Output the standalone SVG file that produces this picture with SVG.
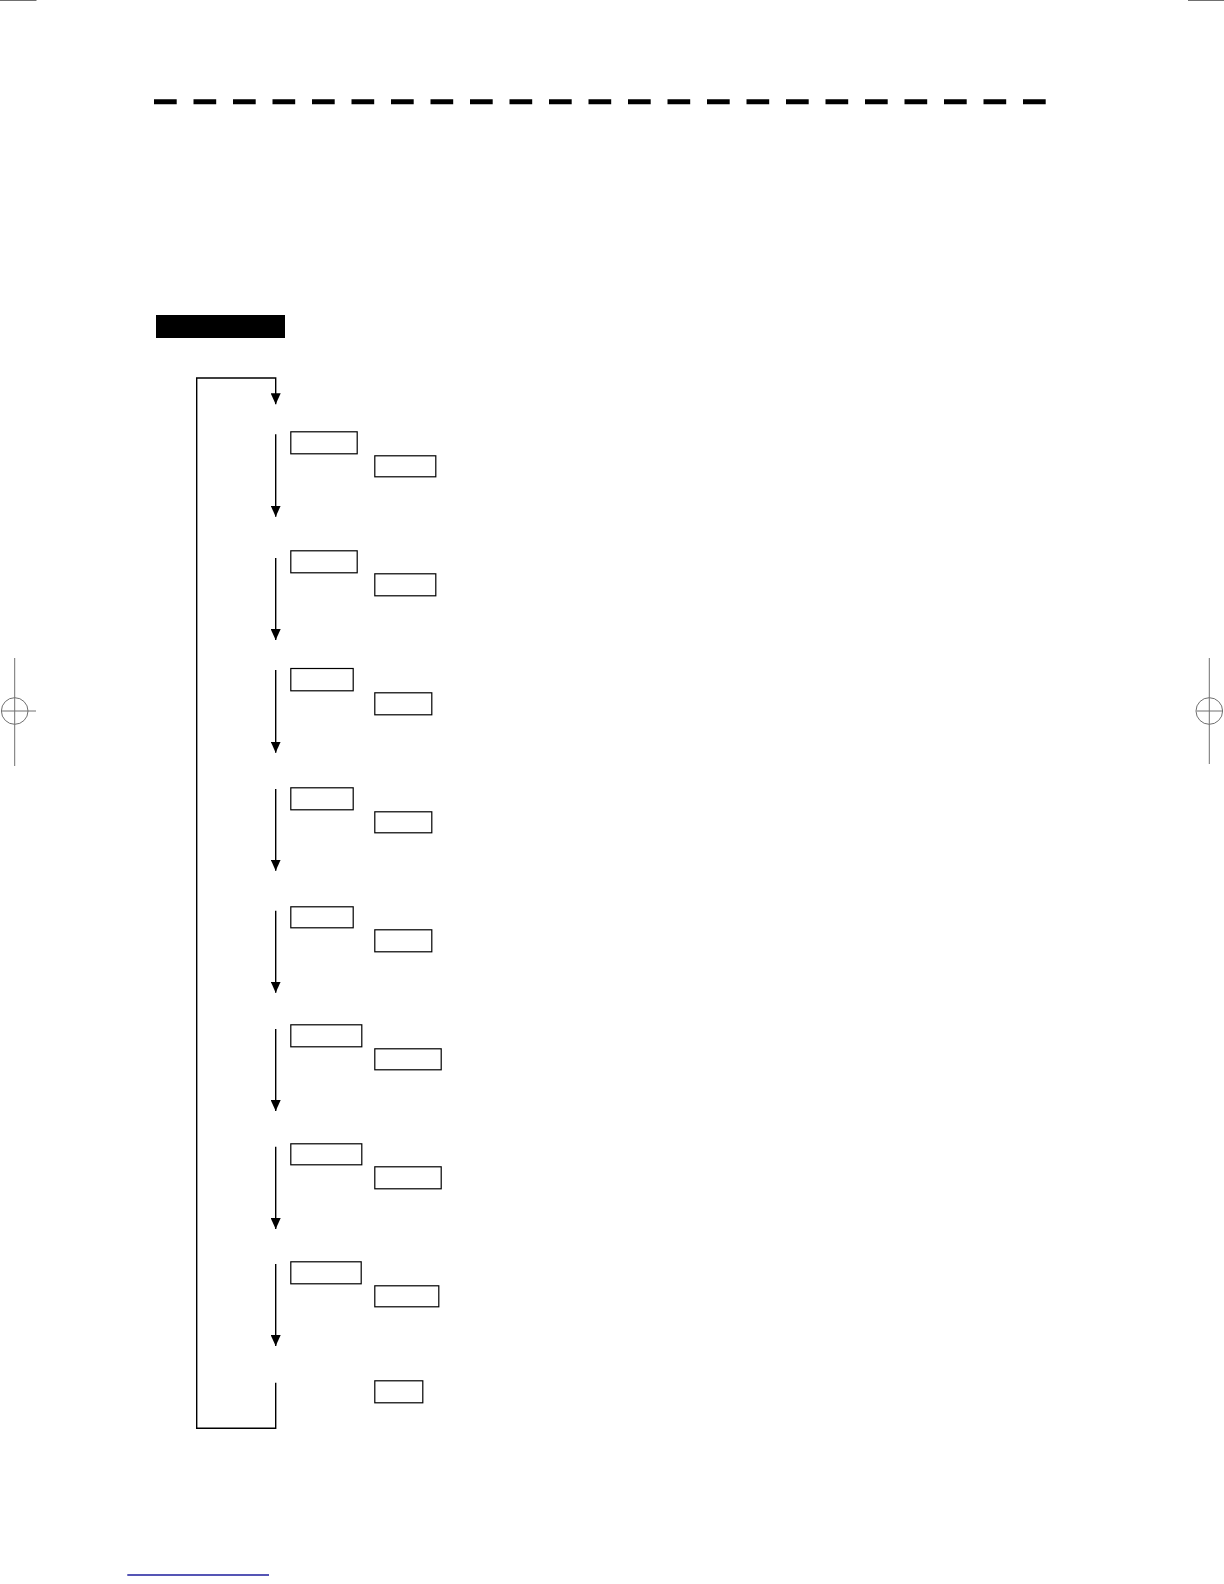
<svg xmlns="http://www.w3.org/2000/svg" width="1224" height="1584" viewBox="0 0 1224 1584">
  <style>
    .box { fill: #ffffff; stroke: #000000; stroke-width: 1.2; }
    .flow { fill: none; stroke: #000000; stroke-width: 1.4; }
    .crop { fill: none; stroke: #707070; stroke-width: 1; }
  </style>
  <defs>
    <marker id="arrow" viewBox="0 0 11 10" refX="11" refY="5" markerWidth="11" markerHeight="10" markerUnits="userSpaceOnUse" orient="auto">
      <path d="M0,0 L11,5 L0,10 Z" fill="#000000"/>
    </marker>
  </defs>
  <rect width="1224" height="1584" fill="#ffffff"/>

  <g id="crop-marks">
    <line class="crop" x1="0" y1="0.5" x2="36.5" y2="0.5"/>
    <line class="crop" x1="1188" y1="0.5" x2="1224" y2="0.5"/>
    <line class="crop" x1="14.7" y1="658" x2="14.7" y2="766"/>
    <line class="crop" x1="1.7" y1="711" x2="36" y2="711"/>
    <circle class="crop" cx="14.7" cy="711" r="13.3"/>
    <line class="crop" x1="1209.3" y1="658" x2="1209.3" y2="764"/>
    <line class="crop" x1="1196.7" y1="711" x2="1223" y2="711"/>
    <circle class="crop" cx="1209.3" cy="711" r="13.3"/>
    <line x1="127.3" y1="1575" x2="269" y2="1575" stroke="#1c1c9c" stroke-width="1.3"/>
  </g>

  <g id="header">
    <line x1="154" y1="101.7" x2="1046" y2="101.7" stroke="#000000" stroke-width="5" stroke-dasharray="22.7 16.8"/>
    <rect x="156" y="315" width="129" height="23" fill="#000000"/>
  </g>

  <g id="connectors">
    <path class="flow" d="M275.7,1382.7 V1428.3 H196.7 V378 H275.7 V404.3" marker-end="url(#arrow)"/>
    <line class="flow" x1="275.7" y1="434.3" x2="275.7" y2="516.7" marker-end="url(#arrow)"/>
    <line class="flow" x1="275.7" y1="558" x2="275.7" y2="640" marker-end="url(#arrow)"/>
    <line class="flow" x1="275.7" y1="670" x2="275.7" y2="752.7" marker-end="url(#arrow)"/>
    <line class="flow" x1="275.7" y1="789" x2="275.7" y2="870.7" marker-end="url(#arrow)"/>
    <line class="flow" x1="275.7" y1="910.7" x2="275.7" y2="992.7" marker-end="url(#arrow)"/>
    <line class="flow" x1="275.7" y1="1029" x2="275.7" y2="1111" marker-end="url(#arrow)"/>
    <line class="flow" x1="275.7" y1="1146.7" x2="275.7" y2="1229" marker-end="url(#arrow)"/>
    <line class="flow" x1="275.7" y1="1264" x2="275.7" y2="1346" marker-end="url(#arrow)"/>
  </g>

  <g id="step1">
    <rect id="n1a" class="box" x="290.8" y="431.8" width="66.4" height="22"/>
    <rect id="n1b" class="box" x="374.8" y="455.8" width="61" height="21"/>
  </g>
  <g id="step2">
    <rect id="n2a" class="box" x="290.8" y="550.8" width="66.4" height="22"/>
    <rect id="n2b" class="box" x="374.8" y="573.8" width="61" height="22"/>
  </g>
  <g id="step3">
    <rect id="n3a" class="box" x="290.8" y="668.5" width="62.4" height="22.3"/>
    <rect id="n3b" class="box" x="374.8" y="692.8" width="57" height="22"/>
  </g>
  <g id="step4">
    <rect id="n4a" class="box" x="290.8" y="787.8" width="62.4" height="22"/>
    <rect id="n4b" class="box" x="374.8" y="811.8" width="57" height="21"/>
  </g>
  <g id="step5">
    <rect id="n5a" class="box" x="290.8" y="906.8" width="62.4" height="21"/>
    <rect id="n5b" class="box" x="374.8" y="929.8" width="57" height="22"/>
  </g>
  <g id="step6">
    <rect id="n6a" class="box" x="290.8" y="1024.8" width="71" height="22"/>
    <rect id="n6b" class="box" x="374.8" y="1048.8" width="66.4" height="21"/>
  </g>
  <g id="step7">
    <rect id="n7a" class="box" x="290.8" y="1143.8" width="71" height="21"/>
    <rect id="n7b" class="box" x="374.8" y="1166.8" width="66.4" height="22"/>
  </g>
  <g id="step8">
    <rect id="n8a" class="box" x="290.8" y="1261.8" width="70.4" height="22"/>
    <rect id="n8b" class="box" x="374.8" y="1285.8" width="64" height="21"/>
  </g>
  <g id="step9">
    <rect id="n9b" class="box" x="374.8" y="1380.8" width="48" height="22"/>
  </g>
</svg>
